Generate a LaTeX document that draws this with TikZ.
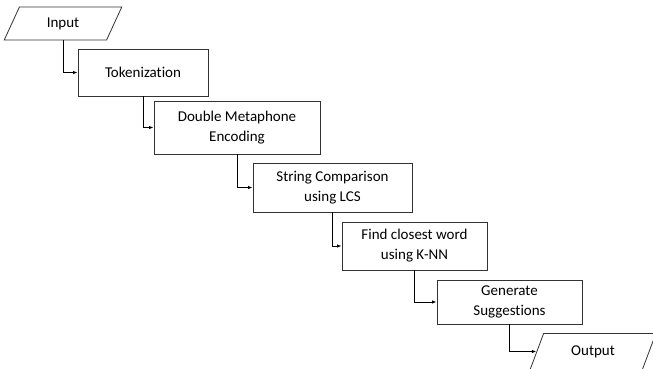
\documentclass[tikz,border=0pt]{standalone}
\usepackage{fontspec}
\setmainfont{Carlito}[Ligatures={NoCommon}]
\usetikzlibrary{arrows.meta,shapes.geometric}
\tikzset{stepbox/.style={draw=black!80,fill=white,line width=0.8pt,align=center,
  font=\fontsize{15}{20}\selectfont,inner sep=2pt},
  iobox/.style={draw=black!80,fill=white,line width=0.8pt,trapezium,
  trapezium left angle=70,trapezium right angle=110,trapezium stretches=true,
  minimum width=118pt,minimum height=33pt,font=\fontsize{15}{20}\selectfont},
  arrow/.style={-{Latex[length=1.6mm,width=1.2mm]},line width=1pt,draw=black}}
\begin{document}
\begin{tikzpicture}[x=1pt,y=-1pt]
\useasboundingbox (0,0) rectangle (653,368);
\node[iobox] (input) at (63,23.5) {Input};
\node[stepbox,minimum width=130pt,minimum height=47pt] (tok) at (143,72.5) {Tokenization};
\node[stepbox,minimum width=166pt,minimum height=53pt] (dmeta) at (237,127.5) {Double Metaphone\\Encoding};
\node[stepbox,minimum width=159pt,minimum height=49pt] (lcs) at (332.5,187.5) {String Comparison\\using LCS};
\node[stepbox,minimum width=145pt,minimum height=48pt] (knn) at (414.5,246) {Find closest word\\using K-NN};
\node[stepbox,minimum width=145pt,minimum height=44pt] (sugg) at (509.5,302) {Generate\\Suggestions};
\node[iobox,minimum width=126pt,minimum height=36pt] (output) at (593,351.5) {Output};
\draw[arrow] (input.south) |- (tok.west);
\draw[arrow] (tok.south) |- (dmeta.west);
\draw[arrow] (dmeta.south) |- (lcs.west);
\draw[arrow] (lcs.south) |- (knn.west);
\draw[arrow] (knn.south) |- (sugg.west);
\draw[arrow] (sugg.south) |- (output);
\end{tikzpicture}
\end{document}
